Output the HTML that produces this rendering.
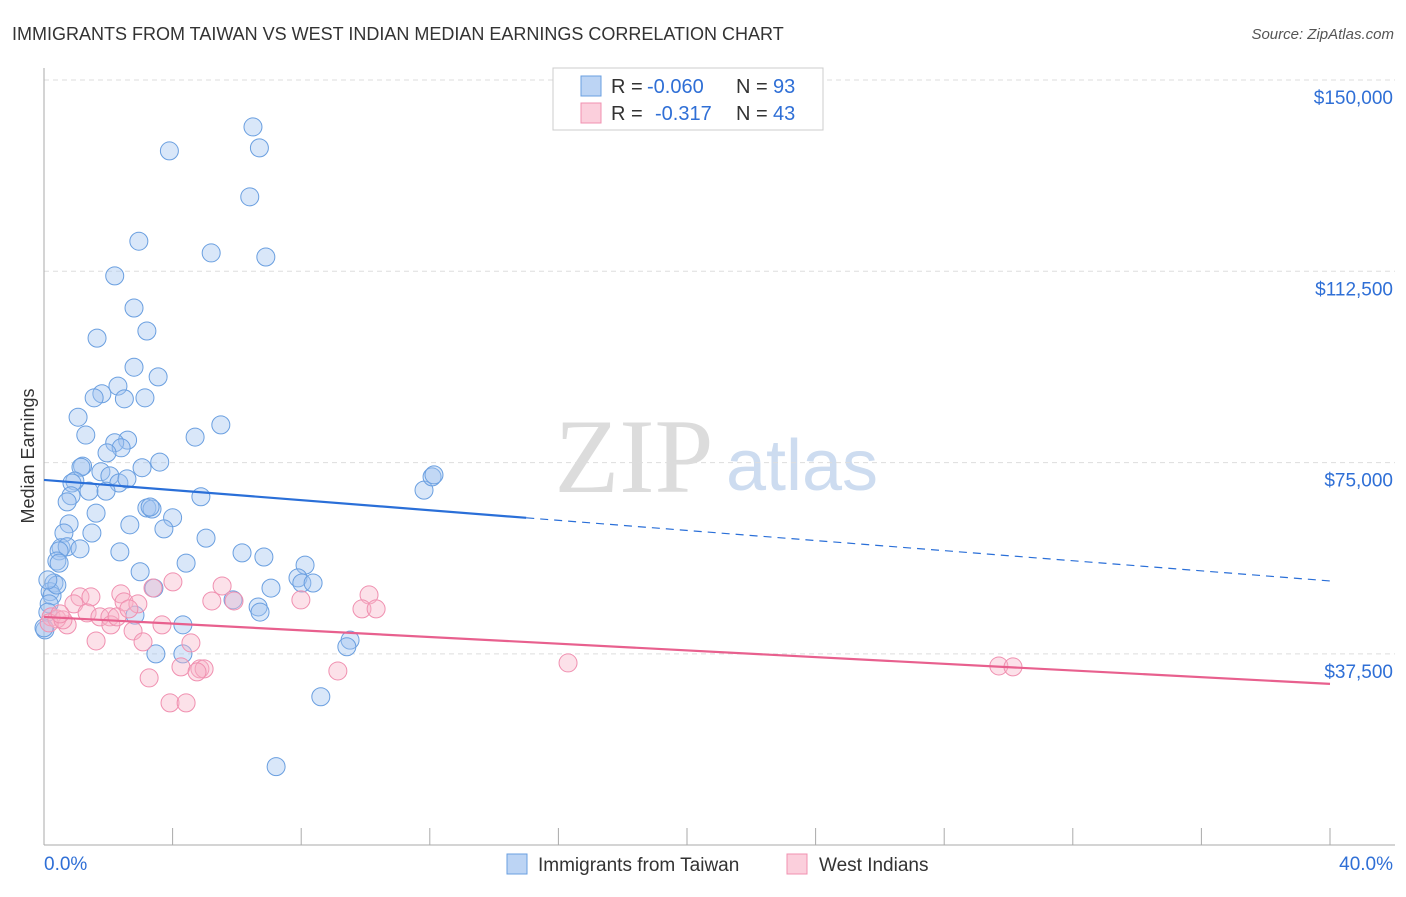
<!DOCTYPE html>
<html><head><meta charset="utf-8"><style>
body{margin:0;background:#fff;font-family:"Liberation Sans",sans-serif;}
</style></head><body>
<svg id="chart" width="1406" height="892" xmlns="http://www.w3.org/2000/svg" font-family="Liberation Sans, sans-serif">
<text x="12" y="40" font-size="18" fill="#333">IMMIGRANTS FROM TAIWAN VS WEST INDIAN MEDIAN EARNINGS CORRELATION CHART</text>
<text x="1394" y="39" font-size="15" fill="#555" font-style="italic" text-anchor="end">Source: ZipAtlas.com</text>
<text x="634" y="492" font-size="106" fill="#dcdcdc" style="font-family:'Liberation Serif',serif" text-anchor="middle">ZIP</text>
<text x="802" y="490" font-size="72" fill="#cddcf0" text-anchor="middle">atlas</text>
<g id="grid"></g>
<g id="axes"></g>
<g id="pts"></g>
<g id="trend"></g>
<text x="34" y="456" font-size="18" fill="#333" text-anchor="middle" transform="rotate(-90 34 456)">Median Earnings</text>
<g>
<rect x="553" y="68" width="270" height="62" fill="#fff" stroke="#ccc"/>
<rect x="581" y="76" width="20" height="20" fill="#bcd4f4" stroke="#6a9fe0"/>
<text x="611" y="93" font-size="20" fill="#333">R =</text>
<text x="647" y="93" font-size="20" fill="#2f6fd6">-0.060</text>
<text x="736" y="93" font-size="20" fill="#333">N =</text>
<text x="773" y="93" font-size="20" fill="#2f6fd6">93</text>
<rect x="581" y="103" width="20" height="20" fill="#fbcfdc" stroke="#f090b0"/>
<text x="611" y="120" font-size="20" fill="#333">R =</text>
<text x="655" y="120" font-size="20" fill="#2f6fd6">-0.317</text>
<text x="736" y="120" font-size="20" fill="#333">N =</text>
<text x="773" y="120" font-size="20" fill="#2f6fd6">43</text>
</g>
<g><rect x="507" y="854" width="20" height="20" fill="#bcd4f4" stroke="#6a9fe0"/><text x="538" y="871" font-size="19" fill="#333">Immigrants from Taiwan</text></g>
<g><rect x="787" y="854" width="20" height="20" fill="#fbcfdc" stroke="#f090b0"/><text x="819" y="871" font-size="19" fill="#333">West Indians</text></g>
</svg>
<script>
const yTicks=[150000,112500,75000,37500];
const yTickLabels=["$150,000","$112,500","$75,000","$37,500"];
const xTickLabels=["0.0%","40.0%"];
const blueX=[6.5,3.9,6.7,6.4,2.95,5.2,6.9,2.2,2.8,3.2,1.65,2.8,3.55,2.3,1.8,1.56,3.14,2.5,1.06,5.5,1.3,4.7,2.6,2.2,2.4,1.96,3.6,1.2,1.15,3.05,1.77,0.96,2.05,0.87,2.33,2.58,1.4,1.93,0.84,4.88,3.2,3.36,3.3,4.0,1.62,0.72,0.78,2.67,3.73,1.49,0.62,5.04,0.53,0.72,1.12,0.47,2.36,6.16,6.84,0.4,0.47,4.42,8.12,2.99,7.9,8.02,0.31,8.37,7.06,3.42,0.19,0.25,0.16,0.12,2.83,5.88,6.66,6.72,4.32,9.52,9.42,3.48,4.32,8.61,7.22,11.82,12.07,12.13,0.03,0.4,0.12,0.0];
const blueY=[140800,136100,136700,127100,118400,116100,115300,111600,105300,100800,99400,93700,91800,90000,88500,87700,87700,87500,83900,82400,80400,80000,79400,78900,77900,76900,75100,74300,74100,74000,73200,71400,72400,71000,71000,71800,69400,69400,68500,68300,66100,65900,66300,64200,65100,67300,63000,62800,62000,61200,61200,60200,58300,58500,58100,57700,57500,57300,56500,55700,55300,55300,54900,53600,52400,51400,51400,51400,50400,50400,49700,48900,47300,45700,45100,48100,46700,45700,43200,40200,38900,37500,37500,29100,15400,69600,72200,72600,42200,51000,52000,42600];
const pinkX=[0.22,1.12,1.46,2.39,2.49,2.92,3.39,4.01,5.54,5.22,5.91,7.99,10.11,9.89,10.33,0.93,1.34,1.74,2.05,2.08,0.72,0.4,2.77,3.67,1.62,3.08,4.57,4.26,4.85,4.98,4.76,9.14,3.27,3.92,4.42,0.16,0.59,2.27,2.64,16.3,29.7,30.14,0.5];
const pinkY=[44750,48670,48670,49260,47690,47300,50430,51610,50820,47880,47880,48080,49060,46320,46320,47300,45530,44750,44750,43180,43180,44360,42000,43180,40040,39850,39650,34950,34560,34560,33970,34160,32790,27890,27890,43570,44160,44750,46320,35730,35140,34950,45340];
const blueTrend=[71600,51800], blueSolidEnd=15.0;
const pinkTrend=[44750,31620];
const NS="http://www.w3.org/2000/svg";
const X=p=>44+p*(1330-44)/40;
const Y=v=>80+(150000-v)*191.3/37500;
function mk(tag,attrs,parent){const e=document.createElementNS(NS,tag);for(const k in attrs)e.setAttribute(k,attrs[k]);document.getElementById(parent).appendChild(e);return e;}
yTicks.forEach((t,i)=>{
 const g=mk('line',{x1:44,x2:1395,y1:Y(t),y2:Y(t),stroke:'#ddd','stroke-dasharray':'5,4'},'grid');
 
 
 const tx=mk('text',{x:1393,y:Y(t)+24,'font-size':19,fill:'#2f6fd6','text-anchor':'end'},'grid');
 tx.textContent=yTickLabels[i];
 
 
});
const ax=mk('line',{x1:44,x2:44,y1:68,y2:845,stroke:'#aaa'},'axes');


const bx=mk('line',{x1:44,x2:1395,y1:845,y2:845,stroke:'#aaa'},'axes');


for(let p=0;p<=40;p+=4){
 const t=mk('line',{x1:X(p),x2:X(p),y1:828,y2:845,stroke:'#aaa'},'axes');
 
 
}
[[0,44,'start'],[1,1393,'end']].forEach(([i,x,a])=>{
 const t=mk('text',{x:x,y:870,'font-size':19,fill:'#2f6fd6','text-anchor':a},'axes');
 t.textContent=xTickLabels[i];
 
 
});
blueX.forEach((p,i)=>{
 const c=mk('circle',{cx:X(p),cy:Y(blueY[i]),r:9,fill:'rgba(160,196,240,0.4)',stroke:'#6a9fe0','stroke-width':1},'pts');
 
 
});
pinkX.forEach((p,i)=>{
 const c=mk('circle',{cx:X(p),cy:Y(pinkY[i]),r:9,fill:'rgba(248,180,200,0.4)',stroke:'#f090b0','stroke-width':1},'pts');
 
 
});
const bAt=p=>blueTrend[0]+(blueTrend[1]-blueTrend[0])*p/40;
const l1=mk('line',{x1:X(0),y1:Y(bAt(0)),x2:X(blueSolidEnd),y2:Y(bAt(blueSolidEnd)),stroke:'#2a6fd8','stroke-width':2.2},'trend');


const l2=mk('line',{x1:X(blueSolidEnd),y1:Y(bAt(blueSolidEnd)),x2:X(40),y2:Y(bAt(40)),stroke:'#2a6fd8','stroke-width':1.2,'stroke-dasharray':'8,6'},'trend');


const l3=mk('line',{x1:X(0),y1:Y(pinkTrend[0]),x2:X(40),y2:Y(pinkTrend[1]),stroke:'#e8608e','stroke-width':2.2},'trend');


</script>
</body></html>
